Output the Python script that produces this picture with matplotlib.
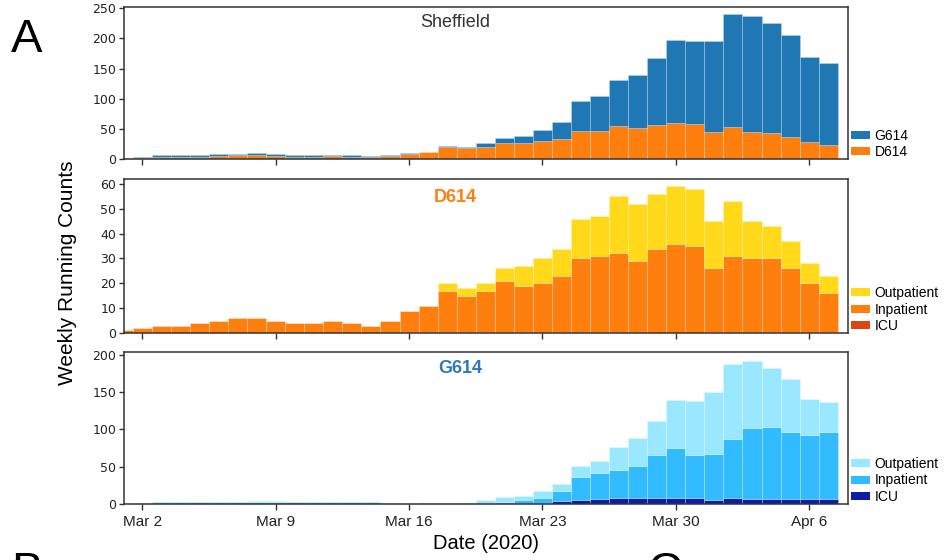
import matplotlib
matplotlib.use("Agg")
import matplotlib.pyplot as plt
import numpy as np
import pandas as pd
from matplotlib.patches import Patch

# daily bins, Mar 1 .. Apr 7 2020
dates = pd.date_range("2020-03-01", "2020-04-07", freq="D")

# D614 by category
d614_icu = [0, 0, 0, 0, 0, 0, 0, 0, 0, 0, 0, 0, 0, 0,
            0.4, 0.4, 0.4, 0.4, 0.4, 0.4, 0.4, 0.4, 0.4, 0.4, 0.4, 0.4, 0.4, 0.4,
            0, 0, 0,
            0.4, 0.4, 0.4, 0.4, 0.4, 0.4, 0.4]
d614_inpatient = [1, 2, 3, 3, 4, 5, 6, 6, 5, 4, 4, 5, 4, 3,
                  4.6, 8.6, 10.6, 16.6, 14.6, 16.6, 20.6, 18.6, 19.6, 22.6, 29.6, 30.6, 31.6, 28.6,
                  34, 36, 35,
                  25.6, 30.6, 29.6, 29.6, 25.6, 19.6, 15.6]
d614_outpatient = [0, 0, 0, 0, 0, 0, 0, 0, 0, 0, 0, 0, 0, 0, 0, 0, 0,
                   3, 3, 3, 5, 8, 10, 11, 16, 16, 23, 23, 22, 23, 23,
                   19, 22, 15, 13, 11, 8, 7]

# G614 by category
g614_icu = [0, 0, 0, 0, 0, 0, 0, 0, 0, 0, 0, 0, 0, 0, 0, 0, 0, 0, 0,
            0.5, 1, 1.5, 2, 3.5, 6, 7, 8.5, 8.5, 8.5, 8, 8, 6, 8, 7, 7, 6.5, 6.5, 6.5]
g614_inpatient = [0, 2, 3, 3, 3, 3, 3, 3, 3, 2.5, 2.5, 2.5, 2.5, 2.5, 1, 0.5, 1, 1, 1,
                  1.5, 2, 3.5, 6, 13.5, 30, 35, 37.5, 42.5, 57.5, 67, 58, 61, 79, 95, 96,
                  90.5, 86.5, 90.5]
g614_outpatient = [0, 0, 0, 0, 0, 0, 0, 1.5, 0.5, 0, 0, 0, 0, 0, 0, 0, 0, 0.5, 0.5,
                   4, 6, 6, 10, 10, 15, 16, 30, 37, 45, 64, 72, 83, 101, 90, 80, 71, 48, 40]

tick_dates = ["2020-03-02", "2020-03-09", "2020-03-16", "2020-03-23", "2020-03-30", "2020-04-06"]
tick_labels = ["Mar 2", "Mar 9", "Mar 16", "Mar 23", "Mar 30", "Apr 6"]

plt.rcParams["font.family"] = ["Liberation Sans", "DejaVu Sans"]

edge = (1, 1, 1, 0.25)


def stacked(ax, layers, colors):
    bottom = np.zeros(len(dates))
    for vals, col in zip(layers, colors):
        vals = np.asarray(vals, dtype=float)
        ax.bar(dates, vals, width=1.0, bottom=bottom, color=col,
               edgecolor=edge, linewidth=0.6, align="center")
        bottom = bottom + vals


def style(ax, ymax, yticks, show_x):
    ax.set_xlim(pd.Timestamp("2020-03-01 01:00"), pd.Timestamp("2020-04-08 01:00"))
    ax.set_ylim(0, ymax)
    ax.set_yticks(yticks)
    ax.set_xticks(pd.to_datetime(tick_dates))
    ax.set_xticklabels(tick_labels if show_x else [])
    for s in ax.spines.values():
        s.set_color("#333333")
        s.set_linewidth(1.1)
    ax.tick_params(axis="y", length=3.5, width=1, color="#333333", pad=2,
                   labelsize=9, labelcolor="#222222")
    ax.tick_params(axis="x", length=4, width=1, color="#333333", pad=4,
                   labelsize=11, labelcolor="#222222")
    for lab in ax.get_yticklabels():
        lab.set_family("DejaVu Sans")


def legend(ax, labels, colors):
    handles = [Patch(facecolor=c, edgecolor="none") for c in colors]
    ax.legend(handles, labels, loc="lower left", bbox_to_anchor=(1.0, -0.02),
              frameon=False, fontsize=10, handlelength=1.4, handleheight=0.5,
              handletextpad=0.3, labelspacing=0.2, borderaxespad=0, borderpad=0.2)


fig = plt.figure(figsize=(9.44, 5.6), dpi=100)
ax1 = fig.add_axes([0.1314, 0.716, 0.767, 0.2714])
ax2 = fig.add_axes([0.1314, 0.4054, 0.767, 0.275])
ax3 = fig.add_axes([0.1314, 0.100, 0.767, 0.2714])

d614_total = np.sum([d614_icu, d614_inpatient, d614_outpatient], axis=0)
g614_total = np.sum([g614_icu, g614_inpatient, g614_outpatient], axis=0)

# Sheffield: D614 below G614
stacked(ax1, [d614_total, g614_total], ["#ff7f0e", "#1f77b4"])
style(ax1, 252, [0, 50, 100, 150, 200, 250], False)
ax1.text(0.458, 0.90, "Sheffield", transform=ax1.transAxes, ha="center", va="center",
         fontsize=13, color="#333333")
legend(ax1, ["G614", "D614"], ["#1f77b4", "#ff7f0e"])

# D614 by patient status
d_cols = ["#dd4411", "#ff7f0e", "#ffd91a"]
stacked(ax2, [d614_icu, d614_inpatient, d614_outpatient], d_cols)
style(ax2, 62, [0, 10, 20, 30, 40, 50, 60], False)
ax2.text(0.458, 0.88, "D614", transform=ax2.transAxes, ha="center", va="center",
         fontsize=13, fontweight="bold", color="#ff7f0e")
legend(ax2, ["Outpatient", "Inpatient", "ICU"], d_cols[::-1])

# G614 by patient status
g_cols = ["#0b1ea8", "#33bbff", "#9ae8ff"]
stacked(ax3, [g614_icu, g614_inpatient, g614_outpatient], g_cols)
style(ax3, 204, [0, 50, 100, 150, 200], True)
ax3.text(0.465, 0.89, "G614", transform=ax3.transAxes, ha="center", va="center",
         fontsize=13, fontweight="bold", color="#2a7ab8")
legend(ax3, ["Outpatient", "Inpatient", "ICU"], g_cols[::-1])

fig.text(0.072, 0.5125, "Weekly Running Counts", rotation=90, ha="center", va="center",
         fontsize=15)
fig.text(0.5146, 0.030, "Date (2020)", ha="center", va="center", fontsize=14.5)
fig.text(0.012, 0.907, "A", fontsize=34, va="baseline", ha="left")
# tops of the next panel letters, cut by the crop as in the source figure
fig.text(0.012, -0.045, "B", fontsize=34, va="baseline", ha="left")
fig.text(0.686, -0.045, "C", fontsize=34, va="baseline", ha="left")

fig.savefig("out.png", dpi=100)
